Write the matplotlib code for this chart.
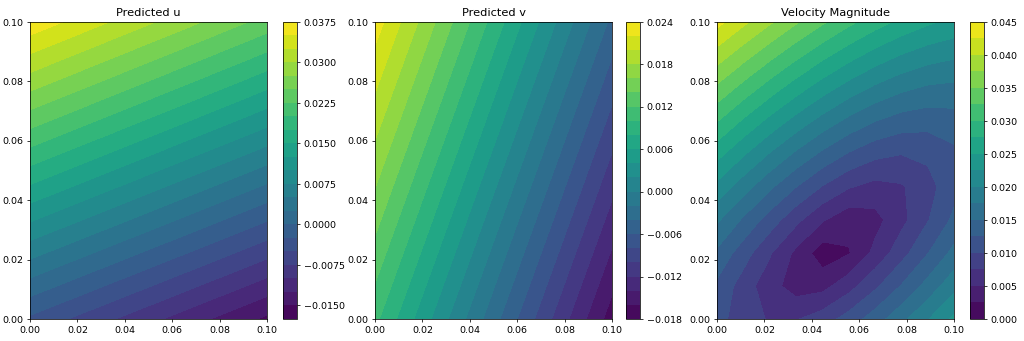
import numpy as np
import matplotlib
matplotlib.use("Agg")
import matplotlib.pyplot as plt

# grid coordinates
x = np.linspace(0, 0.1, 10)
y = np.linspace(0, 0.1, 10)

# predicted u (rows: y index, columns: x index)
u_grid = [
    [-0.00300, -0.00439, -0.00578, -0.00717, -0.00856, -0.00994, -0.01133, -0.01272, -0.01411, -0.01550],
    [0.00142, 0.00003, -0.00136, -0.00276, -0.00415, -0.00554, -0.00693, -0.00833, -0.00972, -0.01111],
    [0.00584, 0.00444, 0.00305, 0.00165, 0.00026, -0.00114, -0.00253, -0.00393, -0.00532, -0.00672],
    [0.01027, 0.00887, 0.00747, 0.00607, 0.00467, 0.00327, 0.00187, 0.00047, -0.00093, -0.00233],
    [0.01469, 0.01329, 0.01188, 0.01048, 0.00908, 0.00767, 0.00627, 0.00487, 0.00346, 0.00206],
    [0.01911, 0.01770, 0.01629, 0.01489, 0.01348, 0.01207, 0.01066, 0.00926, 0.00785, 0.00644],
    [0.02353, 0.02212, 0.02071, 0.01930, 0.01789, 0.01648, 0.01507, 0.01365, 0.01224, 0.01083],
    [0.02796, 0.02654, 0.02513, 0.02371, 0.02230, 0.02088, 0.01946, 0.01805, 0.01663, 0.01522],
    [0.03238, 0.03096, 0.02954, 0.02812, 0.02670, 0.02529, 0.02387, 0.02245, 0.02103, 0.01961],
    [0.03680, 0.03538, 0.03396, 0.03253, 0.03111, 0.02969, 0.02827, 0.02684, 0.02542, 0.02400],
]

# predicted v (rows: y index, columns: x index)
v_grid = [
    [0.01050, 0.00744, 0.00439, 0.00133, -0.00172, -0.00478, -0.00783, -0.01089, -0.01394, -0.01700],
    [0.01189, 0.00883, 0.00578, 0.00272, -0.00033, -0.00339, -0.00644, -0.00950, -0.01256, -0.01561],
    [0.01328, 0.01022, 0.00717, 0.00411, 0.00106, -0.00200, -0.00506, -0.00811, -0.01117, -0.01422],
    [0.01467, 0.01161, 0.00856, 0.00550, 0.00244, -0.00061, -0.00367, -0.00672, -0.00978, -0.01283],
    [0.01606, 0.01300, 0.00994, 0.00689, 0.00383, 0.00078, -0.00228, -0.00533, -0.00839, -0.01144],
    [0.01744, 0.01439, 0.01133, 0.00828, 0.00522, 0.00217, -0.00089, -0.00394, -0.00700, -0.01006],
    [0.01883, 0.01578, 0.01272, 0.00967, 0.00661, 0.00356, 0.00050, -0.00256, -0.00561, -0.00867],
    [0.02022, 0.01717, 0.01411, 0.01106, 0.00800, 0.00494, 0.00189, -0.00117, -0.00422, -0.00728],
    [0.02161, 0.01856, 0.01550, 0.01244, 0.00939, 0.00633, 0.00328, 0.00022, -0.00283, -0.00589],
    [0.02300, 0.01994, 0.01689, 0.01383, 0.01078, 0.00772, 0.00467, 0.00161, -0.00144, -0.00450],
]

titles = ["Predicted u", "Predicted v", "Velocity Magnitude"]

X, Y = np.meshgrid(x, y)
U = np.array(u_grid)
V = np.array(v_grid)
M = np.sqrt(U**2 + V**2)

W, H = 1024, 341
fig = plt.figure(figsize=(15, 5), dpi=W/15)
ax_lefts = [30, 375, 717]
cb_lefts = [283, 626, 970]
top, bottom = 22, 319
for Z, title, al, cl in zip([U, V, M], titles, ax_lefts, cb_lefts):
    ax = fig.add_axes([al/W, (H-bottom)/H, 237/W, (bottom-top)/H])
    cax = fig.add_axes([cl/W, (H-bottom)/H, 14/W, (bottom-top)/H])
    cf = ax.contourf(X, Y, Z, levels=20, cmap="viridis")
    fig.colorbar(cf, cax=cax)
    ax.set_title(title)
fig.savefig("out.png", dpi=W/15)
